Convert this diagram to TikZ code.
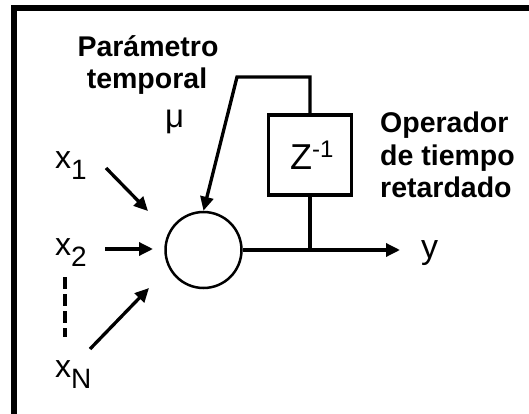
\documentclass[tikz,border=0pt]{standalone}
\usepackage{fontspec}
\setmainfont{Liberation Sans}
\usetikzlibrary{arrows.meta}
\begin{document}
\begin{tikzpicture}[x=1pt,y=-1pt,
  conn/.style={line width=3.3pt},
  arr/.style={conn,-{Triangle[length=14pt,width=13pt]}},
  lbl/.style={inner sep=0pt,anchor=base west,font=\fontsize{32}{34}\selectfont},
  boldlbl/.style={inner sep=0pt,font=\fontsize{28.5}{32}\selectfont\bfseries},
]
\useasboundingbox (0,0) rectangle (529,414);
\draw[line width=6pt] (14,414) -- (14,8) -- (529,8);
% nodes
\node[circle,draw,line width=2.5pt,minimum size=76pt,inner sep=0pt] (n) at (203.5,250) {};
\node[draw,line width=3.2pt,minimum width=83pt,minimum height=80pt,inner sep=0pt] (z) at (310,155) {};
\node[lbl,font=\fontsize{36}{36}\selectfont] (zt) at (290,169) {Z\raisebox{12pt}{\fontsize{24}{24}\selectfont -1}};
% labels
\node[lbl] (x1) at (55,168) {x\raisebox{-11pt}{\fontsize{28}{28}\selectfont 1}};
\node[lbl] (x2) at (55,255) {x\raisebox{-11pt}{\fontsize{28}{28}\selectfont 2}};
\node[lbl] (xN) at (55,377) {x\raisebox{-11pt}{\fontsize{28}{28}\selectfont N}};
\node[lbl,font=\fontsize{34}{34}\selectfont] (y) at (421,258) {y};
\node[lbl,font=\fontsize{33}{33}\selectfont] (mu) at (165,128) {μ};
\node[boldlbl,anchor=base] (p1) at (148,57) {Parámetro};
\node[boldlbl,anchor=base] (p2) at (147,89) {temporal};
\node[boldlbl,anchor=base west] (o1) at (380,132) {Operador};
\node[boldlbl,anchor=base west] (o2) at (380,165) {de tiempo};
\node[boldlbl,anchor=base west] (o3) at (380,197) {retardado};
% coordinates
\coordinate (a1s) at (106,168); \coordinate (a1e) at (148,211);
\coordinate (a2s) at (105,249); \coordinate (a2e) at (153,249);
\coordinate (aNs) at (90,349);  \coordinate (aNe) at (149,288);
\coordinate (ds) at (65,277);   \coordinate (de) at (65,337);
\coordinate (fb) at (237,77);
\coordinate (yt) at (400,250);
% connectors
\draw[arr] (a1s) -- (a1e);
\draw[arr] (a2s) -- (a2e);
\draw[arr] (aNs) -- (aNe);
\draw[conn,dash pattern=on 12pt off 5pt] (ds) -- (de);
\draw[arr] (z.north) |- (fb) -- (n.north);
\draw[arr] (n.east) -- (yt);
\draw[conn] (z.south) -- (z.south |- n.east);
\end{tikzpicture}
\end{document}
